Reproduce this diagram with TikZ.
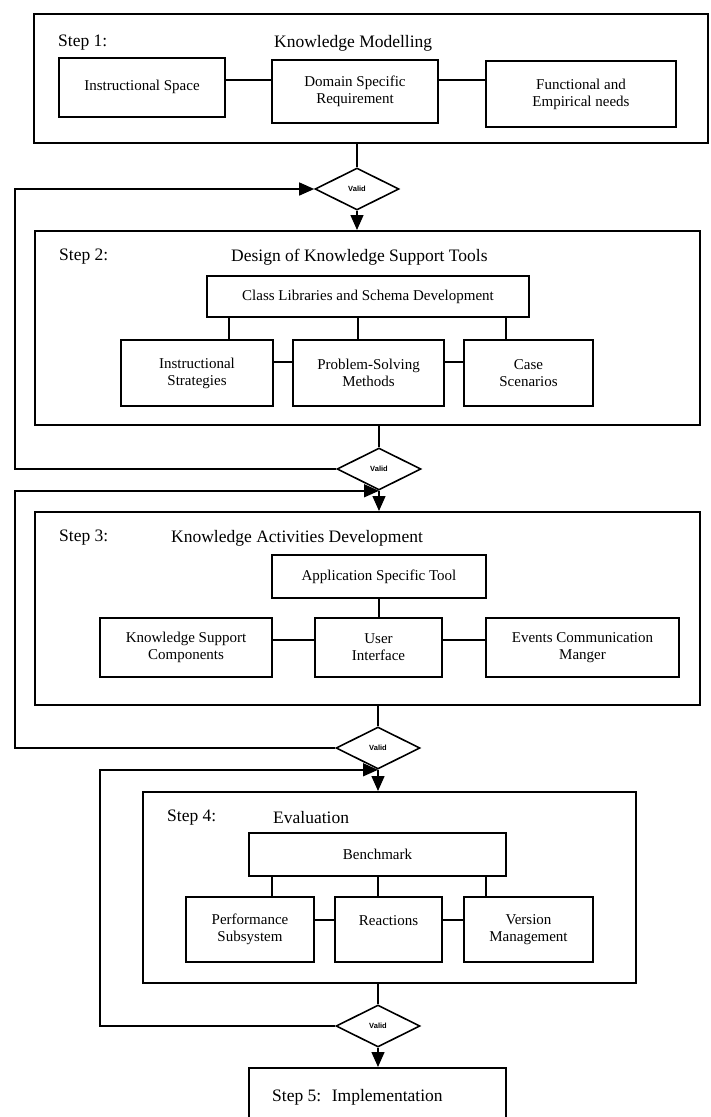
\documentclass[tikz,border=0pt]{standalone}
\usepackage{fontspec}
\setmainfont{Liberation Serif}
\newfontfamily\validfont{Liberation Sans}
\usetikzlibrary{shapes.geometric,arrows.meta}
\begin{document}
\begin{tikzpicture}[x=1pt,y=-1pt,
  stage/.style={draw, line width=2pt, inner sep=0pt},
  box/.style={draw, line width=1.7pt, align=center, inner sep=0pt,
    font=\fontsize{15}{17}\selectfont},
  head/.style={anchor=west, inner sep=0pt, font=\fontsize{17.5}{20}\selectfont},
  check/.style={diamond, draw, line width=1.6pt, minimum width=84pt,
    minimum height=42pt, inner sep=0pt,
    font=\validfont\bfseries\fontsize{7.5}{8}\selectfont},
  link/.style={line width=1.4pt},
  flow/.style={line width=1.4pt, -{Triangle[length=15pt,width=13pt]}},
]
\useasboundingbox (0,0) rectangle (710,1117);
\clip (0,0) rectangle (710,1117);

% columns of the loop-back lines
\coordinate (back) at (15,0);
\coordinate (backin) at (100,0);

% ---------- Step 1 ----------
\node[stage, minimum width=674pt, minimum height=129pt] (s1) at (371,78.5) {};
\node[head] (s1a) at (58,43) {Step 1:};
\node[head] (s1b) at (274,43) {Knowledge Modelling};
\node[box, minimum width=166pt, minimum height=59pt] (is) at (142,87.5) {\raisebox{5pt}{Instructional Space}};
\node[box, minimum width=166pt, minimum height=63pt] (dsr) at (355,91.5) {Domain Specific\\Requirement};
\node[box, minimum width=190pt, minimum height=66pt] (fen) at (581,94) {Functional and\\Empirical needs};
\coordinate (r1) at (0,80);
\draw[link] (is.east |- r1) -- (dsr.west |- r1);
\draw[link] (dsr.east |- r1) -- (fen.west |- r1);

\node[check] (d1) at (357,189) {Valid};
\draw[link] (d1.north |- s1.south) -- (d1.north);

% ---------- Step 2 ----------
\node[stage, minimum width=665pt, minimum height=194pt] (s2) at (367.5,328) {};
\node[head] (s2a) at (59,257) {Step 2:};
\node[head] (s2b) at (231,257) {Design of Knowledge Support Tools};
\node[box, minimum width=322pt, minimum height=41pt] (cl) at (368,296.5) {Class Libraries and Schema Development};
\node[box, minimum width=152pt, minimum height=66pt] (ist) at (197,373) {Instructional\\Strategies};
\node[box, minimum width=151pt, minimum height=66pt] (psm) at (368.5,373) {Problem-Solving\\Methods};
\node[box, minimum width=129pt, minimum height=66pt] (cs) at (528.5,373) {Case\\Scenarios};
\coordinate (c1) at (229,0);
\coordinate (c2) at (358,0);
\coordinate (c3) at (506,0);
\coordinate (r2) at (0,362);
\draw[link] (cl.south -| c1) -- (ist.north -| c1);
\draw[link] (cl.south -| c2) -- (psm.north -| c2);
\draw[link] (cl.south -| c3) -- (cs.north -| c3);
\draw[link] (ist.east |- r2) -- (psm.west |- r2);
\draw[link] (psm.east |- r2) -- (cs.west |- r2);

\draw[flow] (d1.south) -- (d1.south |- s2.north);

\node[check] (d2) at (379,469) {Valid};
\draw[link] (d2.north |- s2.south) -- (d2.north);
\draw[flow] (d2.west) -- (d2.west -| back) -- (d1.west -| back) -- (d1.west);

% ---------- Step 3 ----------
\node[stage, minimum width=665pt, minimum height=193pt] (s3) at (367.5,608.5) {};
\node[head] (s3a) at (59,538) {Step 3:};
\node[head] (s3b) at (171,538) {Knowledge Activities Development};
\node[box, minimum width=214pt, minimum height=43pt] (app) at (379,576.5) {Application Specific Tool};
\node[box, minimum width=172pt, minimum height=59pt] (ksc) at (186,647.5) {Knowledge Support\\Components};
\node[box, minimum width=127pt, minimum height=59pt] (ui) at (378.5,647.5) {User\\Interface};
\node[box, minimum width=193pt, minimum height=59pt] (ecm) at (582.5,647.5) {Events Communication\\Manger};
\coordinate (r3) at (0,640);
\draw[link] (app.south) -- (app.south |- ui.north);
\draw[link] (ksc.east |- r3) -- (ui.west |- r3);
\draw[link] (ui.east |- r3) -- (ecm.west |- r3);

\draw[flow] (d2.south) -- (d2.south |- s3.north);

\node[check] (d3) at (378,748) {Valid};
\draw[link] (d3.north |- s3.south) -- (d3.north);
\draw[flow] (d3.west) -- (d3.west -| back) -- (d2.south -| back) -- (d2.south);

% ---------- Step 4 ----------
\node[stage, minimum width=493pt, minimum height=191pt] (s4) at (389.5,887.5) {};
\node[head] (s4a) at (167,818) {Step 4:};
\node[head] (s4b) at (273,818) {Evaluation};
\node[box, minimum width=257pt, minimum height=43pt] (bm) at (377.5,854.5) {Benchmark};
\node[box, minimum width=128pt, minimum height=65pt] (ps) at (250,929.5) {Performance\\Subsystem};
\node[box, minimum width=107pt, minimum height=65pt] (re) at (388.5,929.5) {Reactions\\\mbox{}};
\node[box, minimum width=129pt, minimum height=65pt] (vm) at (528.5,929.5) {Version\\Management};
\coordinate (e1) at (272,0);
\coordinate (e2) at (378,0);
\coordinate (e3) at (486,0);
\coordinate (r4) at (0,920);
\draw[link] (bm.south -| e1) -- (ps.north -| e1);
\draw[link] (bm.south -| e2) -- (re.north -| e2);
\draw[link] (bm.south -| e3) -- (vm.north -| e3);
\draw[link] (ps.east |- r4) -- (re.west |- r4);
\draw[link] (re.east |- r4) -- (vm.west |- r4);

\draw[flow] (d3.south) -- (d3.south |- s4.north);

\node[check] (d4) at (378,1026) {Valid};
\draw[link] (d4.north |- s4.south) -- (d4.north);
\draw[flow] (d4.west) -- (d4.west -| backin) -- (d3.south -| backin) -- (d3.south);

% ---------- Step 5 ----------
\node[stage, minimum width=257pt, minimum height=90pt] (s5) at (377.5,1113) {};
\node[head] (s5a) at (272,1097) {Step 5:\hspace{0.6em}Implementation};
\draw[flow] (d4.south) -- (d4.south |- s5.north);
\end{tikzpicture}
\end{document}
